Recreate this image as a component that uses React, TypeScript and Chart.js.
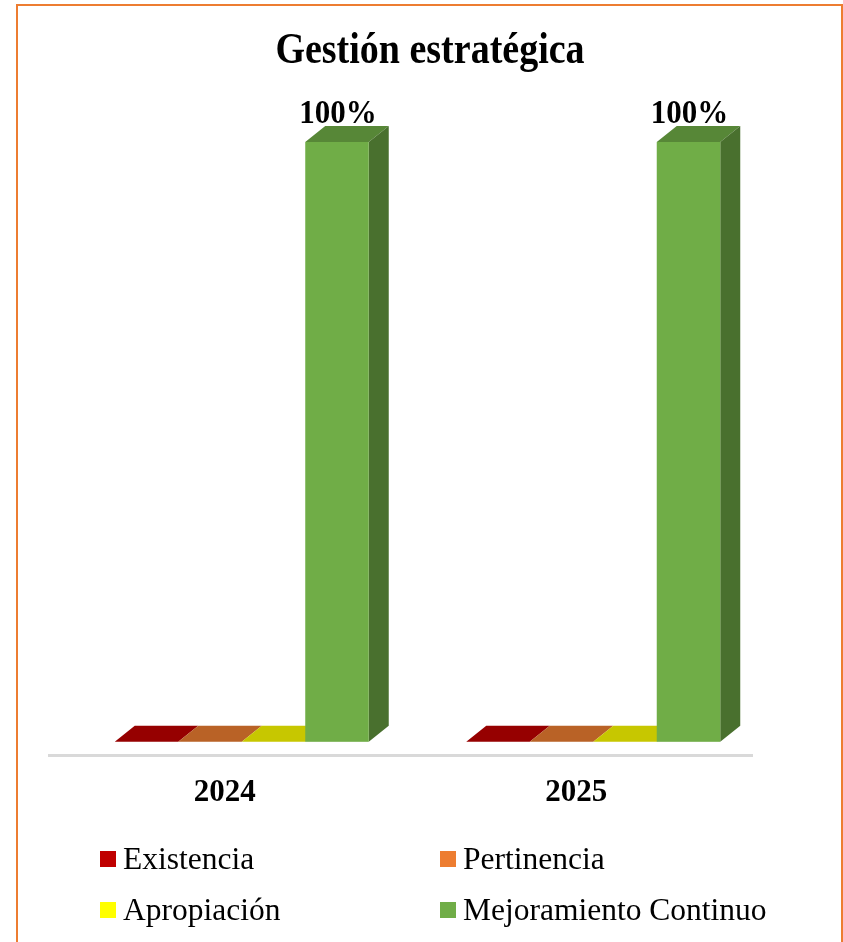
import React, { useEffect, useRef } from "react";
import { Chart, registerables } from "chart.js";

Chart.register(...registerables);

const chartTitle = "Gestión estratégica";
const categories = ["2024", "2025"];
const seriesNames = ["Existencia", "Pertinencia", "Apropiación", "Mejoramiento Continuo"];
const existencia = [0, 0];
const pertinencia = [0, 0];
const apropiacion = [0, 0];
const mejoramiento = [100, 100];
const seriesColors = ["#C00000", "#ED7D31", "#FFFF00", "#70AD47"];

const FONT = '"Liberation Serif", "Times New Roman", serif';
const DEPTH_X = 20;
const DEPTH_Y = 16;
const FRONT_SHIFT = 17;

function shade(hex: string, f: number): string {
  const n = parseInt(hex.slice(1), 16);
  const r = Math.round(((n >> 16) & 255) * f);
  const g = Math.round(((n >> 8) & 255) * f);
  const b = Math.round((n & 255) * f);
  return `rgb(${r},${g},${b})`;
}

function stretchedText(ctx: any, text: string, x: number, y: number, sy: number) {
  ctx.save();
  ctx.translate(x, y);
  ctx.scale(1, sy);
  ctx.fillText(text, 0, 0);
  ctx.restore();
}

const bars3d = {
  id: "bars3d",
  afterDatasetsDraw(chart: any) {
    const ctx = chart.ctx;
    ctx.save();
    chart.data.datasets.forEach((ds: any, di: number) => {
      const meta = chart.getDatasetMeta(di);
      const col = seriesColors[di];
      meta.data.forEach((el: any) => {
        const { x, y, base, width } = el.getProps(["x", "y", "base", "width"], true);
        const x0 = x - width / 2 + FRONT_SHIFT;
        const x1 = x + width / 2 + FRONT_SHIFT;
        // top face
        ctx.fillStyle = shade(col, 0.78);
        ctx.beginPath();
        ctx.moveTo(x0, y);
        ctx.lineTo(x1, y);
        ctx.lineTo(x1 + DEPTH_X, y - DEPTH_Y);
        ctx.lineTo(x0 + DEPTH_X, y - DEPTH_Y);
        ctx.closePath();
        ctx.fill();
        if (base - y > 0.5) {
          // side face
          ctx.fillStyle = shade(col, 0.65);
          ctx.beginPath();
          ctx.moveTo(x1, y);
          ctx.lineTo(x1 + DEPTH_X, y - DEPTH_Y);
          ctx.lineTo(x1 + DEPTH_X, base - DEPTH_Y);
          ctx.lineTo(x1, base);
          ctx.closePath();
          ctx.fill();
          // front face
          ctx.fillStyle = col;
          ctx.fillRect(x0, y, x1 - x0, base - y);
        }
      });
    });
    // data labels
    chart.data.datasets.forEach((ds: any, di: number) => {
      const meta = chart.getDatasetMeta(di);
      meta.data.forEach((el: any, i: number) => {
        const v = ds.data[i];
        if (!v) return;
        const { x, y } = el.getProps(["x", "y"], true);
        ctx.fillStyle = "#000";
        ctx.font = `bold 31px ${FONT}`;
        ctx.textAlign = "center";
        ctx.textBaseline = "alphabetic";
        stretchedText(ctx, `${v}%`, x + FRONT_SHIFT + 1, y - 19, 1.1);
      });
    });
    ctx.restore();
  },
  afterDraw(chart: any) {
    const ctx = chart.ctx;
    ctx.save();
    // outer border
    ctx.strokeStyle = "#ED7D31";
    ctx.lineWidth = 2;
    ctx.strokeRect(17, 5, 825, 1000);
    // title
    ctx.fillStyle = "#000";
    ctx.font = `bold 38px ${FONT}`;
    ctx.textAlign = "center";
    ctx.textBaseline = "alphabetic";
    stretchedText(ctx, chartTitle, 430, 63, 1.17);
    // legend
    const cols = [100, 440];
    const rows = [851, 902];
    ctx.font = `31.5px ${FONT}`;
    ctx.textAlign = "left";
    chart.data.datasets.forEach((ds: any, di: number) => {
      const bx = cols[di % 2];
      const by = rows[Math.floor(di / 2)];
      ctx.fillStyle = seriesColors[di];
      ctx.fillRect(bx, by, 16, 16);
      ctx.fillStyle = "#000";
      ctx.fillText(ds.label, bx + 23, by + 18);
    });
    ctx.restore();
  },
};

export default function App() {
  const ref = useRef<HTMLCanvasElement | null>(null);
  useEffect(() => {
    if (!ref.current) return;
    const seriesData = [existencia, pertinencia, apropiacion, mejoramiento];
    const chart = new Chart(ref.current, {
      type: "bar",
      data: {
        labels: categories,
        datasets: seriesNames.map((name, i) => ({
          label: name,
          data: seriesData[i],
          backgroundColor: "rgba(0,0,0,0)",
          borderWidth: 0,
          categoryPercentage: 0.7226,
          barPercentage: 1,
        })),
      },
      options: {
        animation: false,
        responsive: true,
        maintainAspectRatio: false,
        layout: { padding: { left: 49, right: 91, top: 142, bottom: 137 } },
        plugins: {
          legend: { display: false },
          title: { display: false },
          tooltip: { enabled: false },
        },
        scales: {
          x: {
            offset: true,
            grid: { display: false, drawTicks: false },
            border: { display: true, color: "#D9D9D9", width: 3 },
            ticks: {
              color: "#000",
              padding: 19,
              maxRotation: 0,
              font: { family: FONT, size: 31, weight: "bold" },
            },
            afterFit: (scale: any) => {
              scale.height = 50;
            },
          },
          y: {
            display: false,
            min: -2.2,
            max: 100,
          },
        },
      },
      plugins: [bars3d],
    });
    return () => chart.destroy();
  }, []);
  return (
    <div style={{ position: "absolute", left: 0, top: 0, width: 843, height: 942 }}>
      <canvas ref={ref} />
    </div>
  );
}
